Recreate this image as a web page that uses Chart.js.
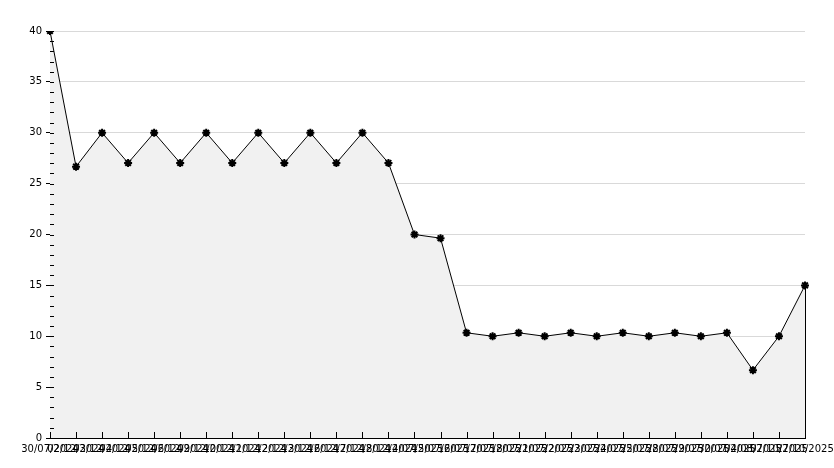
<!DOCTYPE html>
<html>
<head>
<meta charset="utf-8">
<script src="https://cdn.jsdelivr.net/npm/chart.js@4/dist/chart.umd.min.js"></script>
<style>
  html, body { margin: 0; padding: 0; background: #ffffff; }
  #wrap { width: 834px; height: 468px; position: relative; }
</style>
</head>
<body>
<div id="wrap"><canvas id="chart" width="834" height="468"></canvas></div>
<script>
const dates = [
    '30/07/2024', '02/12/2024', '03/12/2024', '04/12/2024', '05/12/2024', '06/12/2024',
    '09/12/2024', '10/12/2024', '11/12/2024', '12/12/2024', '13/12/2024', '16/12/2024',
    '17/12/2024', '18/12/2024', '14/07/2025', '15/07/2025', '16/07/2025', '17/07/2025',
    '18/07/2025', '21/07/2025', '22/07/2025', '23/07/2025', '24/07/2025', '25/07/2025',
    '28/07/2025', '29/07/2025', '30/07/2025', '04/08/2025', '07/10/2025', '27/10/2025'
];
const values = [
    40, 26.67, 30, 27.03, 30, 27.03, 30, 27.03, 30, 27.03, 30, 27.03, 30, 27.03,
    20, 19.64, 10.34, 10, 10.34, 10, 10.34, 10, 10.34, 10, 10.34, 10, 10.34, 6.67, 10, 15
];
const yTicks = [0, 5, 10, 15, 20, 25, 30, 35, 40];

// minor ticks inside the plot, plus the closing edge of the area
const insideTicks = {
    id: 'insideTicks',
    afterDatasetsDraw(chart) {
        const ctx = chart.ctx, x = chart.scales.x, y = chart.scales.y;
        const a = chart.chartArea;
        ctx.save();
        ctx.strokeStyle = '#000';
        ctx.lineWidth = 1;
        ctx.beginPath();
        for (let v = 0; v <= 40; v++) {
            const py = Math.round(y.getPixelForValue(v)) + 0.5;
            ctx.moveTo(a.left, py);
            ctx.lineTo(a.left + 4, py);
        }
        for (let i = 0; i < dates.length; i++) {
            const px = Math.round(x.getPixelForValue(i)) + 0.5;
            ctx.moveTo(px, a.bottom);
            ctx.lineTo(px, a.bottom - 6);
        }
        const last = dates.length - 1;
        const lx = Math.round(x.getPixelForValue(last)) + 0.5;
        ctx.moveTo(lx, y.getPixelForValue(values[last]));
        ctx.lineTo(lx, a.bottom);
        ctx.stroke();
        ctx.restore();
    }
};

new Chart(document.getElementById('chart'), {
    type: 'line',
    data: {
        labels: dates,
        datasets: [{
            data: values,
            borderColor: '#000000',
            borderWidth: 1,
            backgroundColor: '#f1f1f1',
            fill: 'origin',
            tension: 0,
            pointStyle: 'star',
            pointRadius: 4,
            pointBorderWidth: 2,
            pointBorderColor: '#000000',
            pointBackgroundColor: '#000000'
        }]
    },
    options: {
        responsive: false,
        animation: false,
        layout: { padding: { top: 31, right: 29, left: 0, bottom: 0 } },
        plugins: { legend: { display: false }, tooltip: { enabled: false } },
        scales: {
            x: {
                offset: false,
                afterFit: s => { s.height = 30; s.paddingLeft = 0; s.paddingRight = 0; },
                border: { color: '#000', width: 1 },
                grid: { display: true, drawOnChartArea: false, drawTicks: false },
                ticks: {
                    autoSkip: false, maxRotation: 0, minRotation: 0,
                    color: '#000', padding: 5,
                    font: { family: 'DejaVu Sans', size: 10 }
                }
            },
            y: {
                min: 0, max: 40,
                afterFit: s => { s.width = 50; s.paddingTop = 0; s.paddingBottom = 0; },
                afterBuildTicks: s => { s.ticks = yTicks.map(v => ({ value: v })); },
                border: { color: '#000', width: 1 },
                grid: { color: '#d9d9d9', tickColor: '#000', tickLength: 4 },
                ticks: {
                    color: '#000', padding: 4,
                    font: { family: 'DejaVu Sans', size: 10 }
                }
            }
        }
    },
    plugins: [insideTicks]
});
</script>
</body>
</html>
